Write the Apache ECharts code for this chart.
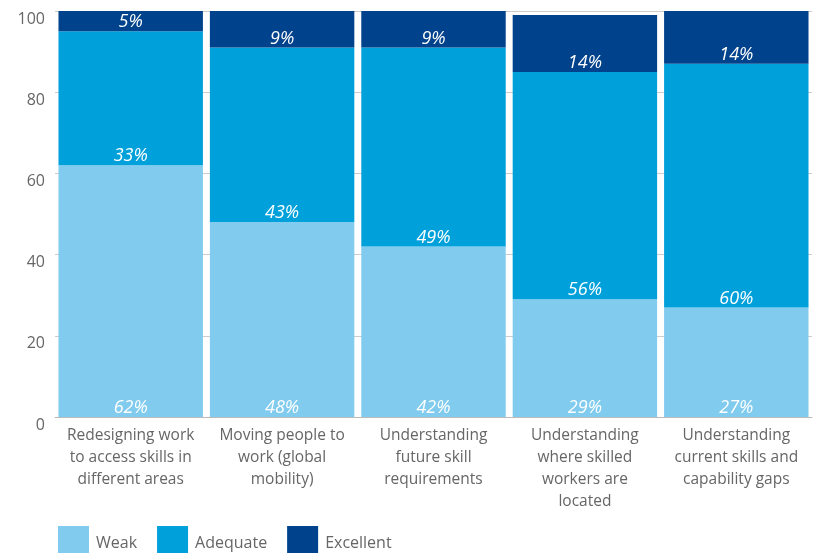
<!DOCTYPE html>
<html>
<head>
<meta charset="utf-8">
<script src="https://cdn.jsdelivr.net/npm/echarts@6/dist/echarts.min.js"></script>
<style>
  html, body { margin: 0; padding: 0; background: #fff; }
  #chart { width: 814px; height: 553px; }
</style>
</head>
<body>
<div id="chart"></div>
<script>
// Capability ratings per area, stacked to 100%
const categories = [
  'Redesigning work\nto access skills in\ndifferent areas',
  'Moving people to\nwork (global\nmobility)',
  'Understanding\nfuture skill\nrequirements',
  'Understanding\nwhere skilled\nworkers are\nlocated',
  'Understanding\ncurrent skills and\ncapability gaps'
];
const weak = [62, 48, 42, 29, 27];
const adequate = [33, 43, 49, 56, 60];
const excellent = [5, 9, 9, 14, 14];
const yTicks = [0, 20, 40, 60, 80, 100];

const FONT = '"Open Sans", "Noto Sans", sans-serif';
const colors = { weak: '#80CBEE', adequate: '#00A1DB', excellent: '#00428B' };

function series(name, data, color) {
  return {
    name: name,
    type: 'bar',
    stack: 'total',
    data: data,
    barCategoryGap: '4.6%',
    itemStyle: { color: color },
    label: {
      show: true,
      position: 'insideBottom',
      distance: 0,
      formatter: '{c}%',
      color: '#fff',
      fontStyle: 'italic',
      fontFamily: FONT,
      fontSize: 18
    }
  };
}

const chart = echarts.init(document.getElementById('chart'));
chart.setOption({
  animation: false,
  grid: { left: 55, right: 2, top: 11, bottom: 136, containLabel: false },
  legend: {
    left: 58,
    top: 526,
    padding: 0,
    itemWidth: 31,
    itemHeight: 34,
    itemGap: 20,
    icon: 'rect',
    textStyle: { color: '#666', fontFamily: FONT, fontSize: 16, padding: [0, 0, 0, 2] },
    data: ['Weak', 'Adequate', 'Excellent']
  },
  xAxis: {
    type: 'category',
    data: categories,
    axisLine: { show: true, lineStyle: { color: '#bbb' } },
    axisTick: { show: false },
    axisLabel: {
      color: '#666',
      fontFamily: FONT,
      fontSize: 15.5,
      lineHeight: 22,
      margin: 8,
      interval: 0
    }
  },
  yAxis: {
    type: 'value',
    min: yTicks[0],
    max: yTicks[yTicks.length - 1],
    interval: 20,
    axisLine: { show: false },
    axisTick: { show: false },
    splitLine: { lineStyle: { color: '#ccc', width: 1 } },
    axisLabel: {
      color: '#666',
      fontFamily: FONT,
      fontSize: 16,
      margin: 10,
      verticalAlign: 'top'
    }
  },
  series: [
    series('Weak', weak, colors.weak),
    series('Adequate', adequate, colors.adequate),
    series('Excellent', excellent, colors.excellent)
  ]
});
</script>
</body>
</html>
